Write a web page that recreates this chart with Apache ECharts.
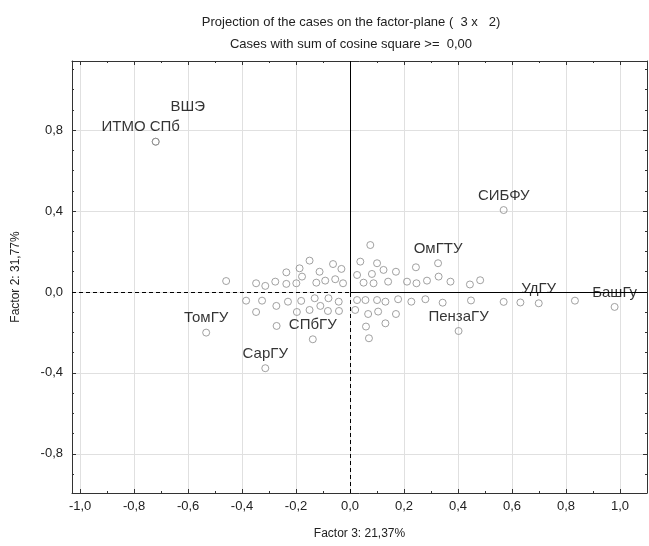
<!DOCTYPE html>
<html><head><meta charset="utf-8">
<script src="https://cdn.jsdelivr.net/npm/echarts@6/dist/echarts.min.js"></script>
<style>html,body{margin:0;padding:0;background:#fff}#c{width:649px;height:546px}</style>
</head><body><div id="c"></div>
<script>
// Labelled cases
const labNames = ['ВШЭ','ИТМО СПб','СИБФУ','ОмГТУ','УдГУ','БашГу','ПензаГУ','ТомГУ','СПбГУ','СарГУ'];
const labX = [-0.720,-0.720,0.569,0.326,0.699,0.980,0.402,-0.533,-0.138,-0.314];
const labY = [0.743,0.743,0.405,0.142,-0.056,-0.074,-0.193,-0.201,-0.234,-0.377];
// Unlabelled cases
const caseX = [-0.459,-0.150,-0.063,-0.032,-0.236,-0.187,-0.113,-0.178,-0.348,-0.314,-0.277,-0.236,-0.199,-0.125,-0.092,-0.055,-0.026,
  -0.385,-0.326,-0.273,-0.230,-0.181,-0.131,-0.080,-0.042,-0.348,-0.197,-0.150,-0.110,-0.082,-0.041,-0.272,
  0.075,0.038,0.100,0.124,0.170,0.026,0.081,0.244,0.050,0.087,0.141,0.211,0.246,0.285,0.328,0.372,0.444,0.482,
  0.026,0.057,0.100,0.131,0.178,0.227,0.279,0.343,0.448,0.019,0.067,0.104,0.170,0.059,0.131,0.070,
  0.569,0.631,0.833];
const caseY = [0.054,0.155,0.138,0.114,0.097,0.117,0.100,0.076,0.043,0.030,0.051,0.040,0.043,0.046,0.056,0.063,0.043,
  -0.043,-0.043,-0.069,-0.048,-0.044,-0.031,-0.031,-0.048,-0.099,-0.099,-0.089,-0.069,-0.094,-0.094,-0.168,
  0.232,0.150,0.142,0.109,0.100,0.084,0.089,0.122,0.046,0.043,0.051,0.051,0.043,0.056,0.076,0.051,0.037,0.058,
  -0.040,-0.040,-0.040,-0.048,-0.036,-0.048,-0.036,-0.053,-0.042,-0.089,-0.109,-0.097,-0.109,-0.171,-0.155,-0.229,
  -0.049,-0.052,-0.043];
// Axes
const xMin = -1.03, xMax = 1.10, yMin = -0.994, yMax = 1.142;
const xTicks = [-1.0,-0.8,-0.6,-0.4,-0.2,0.0,0.2,0.4,0.6,0.8,1.0];
const xMinor = [-0.9,-0.7,-0.5,-0.3,-0.1,0.1,0.3,0.5,0.7,0.9,1.1];
const yTicks = [-0.8,-0.4,0.0,0.4,0.8];
const yMinor = [-0.9,-0.7,-0.6,-0.5,-0.3,-0.2,-0.1,0.1,0.2,0.3,0.5,0.6,0.7,0.9,1.0,1.1];
const titleText = 'Projection of the cases on the factor-plane (  3 x   2)\nCases with sum of cosine square >=  0,00';
const xName = 'Factor 3: 21,37%';
const yName = 'Factor 2: 31,77%';

const FONT = '"Liberation Sans", Arial, sans-serif';
const fmt = v => (Math.abs(v) < 1e-9 ? 0 : v).toFixed(1).replace('.', ',');
const labelOffsets = {'ВШЭ':[32,-20],'ИТМО СПб':[-15,0]};

const chart = echarts.init(document.getElementById('c'));
const sym = {symbol:'circle', symbolSize:7, itemStyle:{color:'rgba(255,255,255,0)', borderColor:'#8a8a8a', borderWidth:1}};
const AX = '#333';
function mkAxis(kind, pos, ticks, len, opts) {
  const isX = kind === 'x';
  return Object.assign({
    type:'value', position:pos,
    min: isX ? xMin : yMin, max: isX ? xMax : yMax,
    axisLine:{show:true, onZero:false, lineStyle:{color:AX, width:1}},
    axisTick:{show:true, inside:true, length:len, customValues:ticks, lineStyle:{color:AX}},
    axisLabel:{show:false, customValues:ticks},
    splitLine:{show:false}, minorTick:{show:false}
  }, opts || {});
}
const noLine = {show:false, onZero:false};
const gridStyle = {color:'#e0e0e0', width:1, type:'solid'};
const lineSolid = {color:'#000', width:1, type:'solid'};
const lineDash = {color:'#000', width:1, type:[4,3]};
const gridLines = [];
xTicks.forEach(v => gridLines.push([{coord:[v, yMin], lineStyle:gridStyle},{coord:[v, yMax]}]));
yTicks.forEach(v => gridLines.push([{coord:[xMin, v], lineStyle:gridStyle},{coord:[xMax, v]}]));

chart.setOption({
  animation:false,
  textStyle:{fontFamily:FONT},
  title:{text:titleText, left:346, top:6, textAlign:'center',
    textStyle:{fontFamily:FONT, fontSize:13, fontWeight:'normal', color:'#222', lineHeight:22}},
  grid:{left:72, right:2, top:61, bottom:53},
  xAxis:[
    mkAxis('x','bottom',xTicks,4,{
      axisLabel:{show:true, customValues:xTicks, formatter:fmt, margin:7, color:'#222', fontSize:13, fontFamily:FONT},
      name:xName, nameLocation:'middle', nameGap:35, nameTextStyle:{color:'#222', fontSize:12, fontFamily:FONT}}),
    mkAxis('x','top',xTicks,4),
    mkAxis('x','bottom',xMinor,2,{axisLine:noLine}),
    mkAxis('x','top',xMinor,2,{axisLine:noLine})
  ],
  yAxis:[
    mkAxis('y','left',yTicks,4,{
      axisLabel:{show:true, customValues:yTicks, formatter:fmt, margin:9, color:'#222', fontSize:13, fontFamily:FONT},
      name:yName, nameLocation:'middle', nameGap:50, nameTextStyle:{color:'#222', fontSize:12, fontFamily:FONT}}),
    mkAxis('y','right',yTicks,4),
    mkAxis('y','left',yMinor,2,{axisLine:noLine}),
    mkAxis('y','right',yMinor,2,{axisLine:noLine})
  ],
  series:[
    {type:'line', silent:true, z:0, data:[[0,0]], symbol:'none', lineStyle:{opacity:0},
     markLine:{silent:true, symbol:['none','none'], label:{show:false}, z:0, data:gridLines}},
    {type:'scatter', silent:true, z:3, ...sym,
     data:caseX.map((x,i)=>[x, caseY[i]]),
     markLine:{silent:true, symbol:['none','none'], label:{show:false},
       data:[
         [{coord:[0,0], lineStyle:lineSolid},{coord:[0,yMax]}],
         [{coord:[0,yMin], lineStyle:lineDash},{coord:[0,0]}],
         [{coord:[xMin,0], lineStyle:lineDash},{coord:[0,0]}],
         [{coord:[0,0], lineStyle:lineSolid},{coord:[xMax,0]}]
       ]}},
    {type:'scatter', silent:true, z:4, ...sym,
     data:labNames.map((n,i)=>({name:n, value:[labX[i], labY[i]],
       label:{show:true, position:'top', distance:3, offset:labelOffsets[n]||[0,0],
         formatter:n, color:'#000', fontSize:15, fontFamily:FONT}}))}
  ]
});
</script></body></html>
